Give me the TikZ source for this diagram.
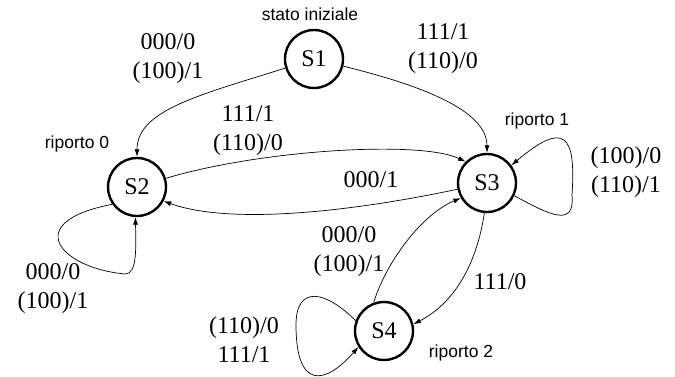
\documentclass[tikz,border=0pt]{standalone}
\usepackage{fontspec}
\setmainfont{Liberation Serif}
\newfontfamily\notefont{Liberation Sans}
\usetikzlibrary{arrows.meta}
\begin{document}
\begin{tikzpicture}[x=1pt,y=-1pt,
  state/.style={circle,draw,line width=2.4pt,minimum size=58pt,inner sep=0pt,
    font=\fontsize{24}{28}\selectfont},
  lbl/.style={align=center,inner sep=0pt,font=\fontsize{24}{29}\selectfont},
  note/.style={inner sep=0pt,font=\notefont\fontsize{17.5}{20}\selectfont},
  tr/.style={line width=0.7pt,-{Latex[length=7.5pt,width=5pt]}}]
\useasboundingbox (0,0) rectangle (675,377);

% states
\node[state] (s1) at (314,59)  {S1};
\node[state] (s2) at (137,187) {S2};
\node[state] (s3) at (487,183) {S3};
\node[state] (s4) at (384,331) {S4};

% state notes
\node[note] (n1) at (310,14)  {stato iniziale};
\node[note] (n0) at (77,144)  {riporto 0};
\node[note] (n3) at (537,121) {riporto 1};
\node[note] (n4) at (461,353) {riporto 2};

% transitions
\draw[tr] (s1) .. controls (200,95) and (137,110) .. (s2);
\draw[tr] (s1) .. controls (420,85) and (487,110) .. (s3);
\draw[tr] (s2) .. controls (260,150) and (420,140) .. (s3.135);
\draw[tr] (s3) .. controls (350,212) and (230,225) .. (s2.-28);
\draw[tr] (s2.-145) .. controls (20,222) and (60,268) .. (125,274)
          .. controls (137,274) and (136,250) .. (s2.-93);
\draw[tr] (s3.-25) .. controls (550,215) and (575,228) .. (572,195)
          .. controls (576,135) and (565,120) .. (s3.36);
\draw[tr] (s4.110) .. controls (385,265) and (420,215) .. (s3.-150);
\draw[tr] (s3.-95) .. controls (478,255) and (460,300) .. (s4.13);
\draw[tr] (s4.160) .. controls (325,290) and (296,285) .. (296,325)
          .. controls (296,390) and (325,385) .. (s4.-148);

% transition labels
\node[lbl] (l12) at (168,59)  {000/0\\(100)/1};
\node[lbl] (l13) at (443,49)  {111/1\\(110)/0};
\node[lbl] (l23) at (248,131) {111/1\\(110)/0};
\node[lbl] (l32) at (371,180) {000/1};
\node[lbl] (l33) at (626,172) {(100)/0\\(110)/1};
\node[lbl] (l22) at (53,289)  {000/0\\(100)/1};
\node[lbl] (l43) at (349,252) {000/0\\(100)/1};
\node[lbl] (l34) at (500,282) {111/0};
\node[lbl] (l44) at (244,340) {(110)/0\\111/1};
\end{tikzpicture}
\end{document}
